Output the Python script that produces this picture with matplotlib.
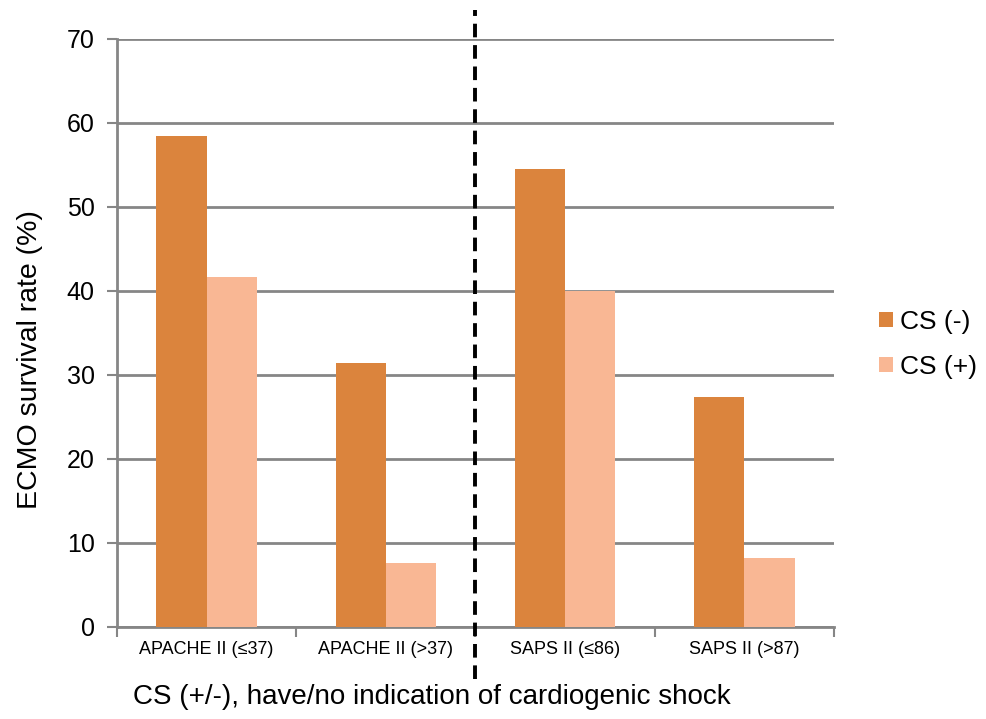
import numpy as np
import matplotlib.pyplot as plt

plt.rcParams['font.family'] = ['Liberation Sans', 'DejaVu Sans']

groups = ['APACHE II (≤37)', 'APACHE II (>37)', 'SAPS II (≤86)', 'SAPS II (>87)']
cs_neg = [58.4, 31.4, 54.5, 27.4]
cs_pos = [41.7, 7.6, 40.0, 8.2]

c_neg = '#DB843D'
c_pos = '#F9B794'
grid_c = '#868686'

fig = plt.figure(figsize=(9.86, 7.19), dpi=100)
ax = fig.add_axes([0.1187, 0.128, 0.7271, 0.8178])

x = np.arange(len(groups))
w = 0.28
ax.bar(x - w / 2, cs_neg, w, color=c_neg, label='CS (-)', zorder=3)
ax.bar(x + w / 2, cs_pos, w, color=c_pos, label='CS (+)', zorder=3)

ax.set_xlim(-0.5, len(groups) - 0.5)
ax.set_ylim(0, 70)
ax.set_yticks(range(0, 71, 10))
ax.yaxis.grid(True, color=grid_c, linewidth=2)
ax.set_axisbelow(True)

# category boundaries as ticks, labels in between
ax.set_xticks(np.arange(-0.5, len(groups), 1.0))
ax.set_xticklabels([])
ax.set_xticks(x, minor=True)
ax.set_xticklabels(groups, minor=True, fontsize=13)
ax.tick_params(axis='x', which='minor', length=0, pad=10)
ax.tick_params(axis='x', which='major', length=7, width=1.5, color=grid_c)
ax.tick_params(axis='y', length=7, width=1.5, color=grid_c, labelsize=18, pad=9)

for s in ['top', 'right']:
    ax.spines[s].set_visible(False)
for s in ['left', 'bottom']:
    ax.spines[s].set_color(grid_c)
    ax.spines[s].set_linewidth(2)

# divider between APACHE and SAPS groups
ax.axvline(1.5, ymin=-0.088, ymax=1.05, color='black', linestyle=(0, (3.5, 2)),
           linewidth=2.8, clip_on=False, zorder=4)

ax.set_ylabel('ECMO survival rate (%)', fontsize=20.5)
ax.yaxis.set_label_coords(-0.121, 0.454)
ax.set_xlabel('CS (+/-), have/no indication of cardiogenic shock', fontsize=20)
ax.xaxis.set_label_coords(0.439, -0.119)
ax.xaxis.label.set_va('center')
ax.yaxis.label.set_va('center')

fig.legend(loc='center left', bbox_to_anchor=(0.867, 0.521), frameon=False,
           fontsize=19, handlelength=0.53, handleheight=0.53, handletextpad=0.27,
           labelspacing=0.8)

fig.savefig('out.png', dpi=100)
